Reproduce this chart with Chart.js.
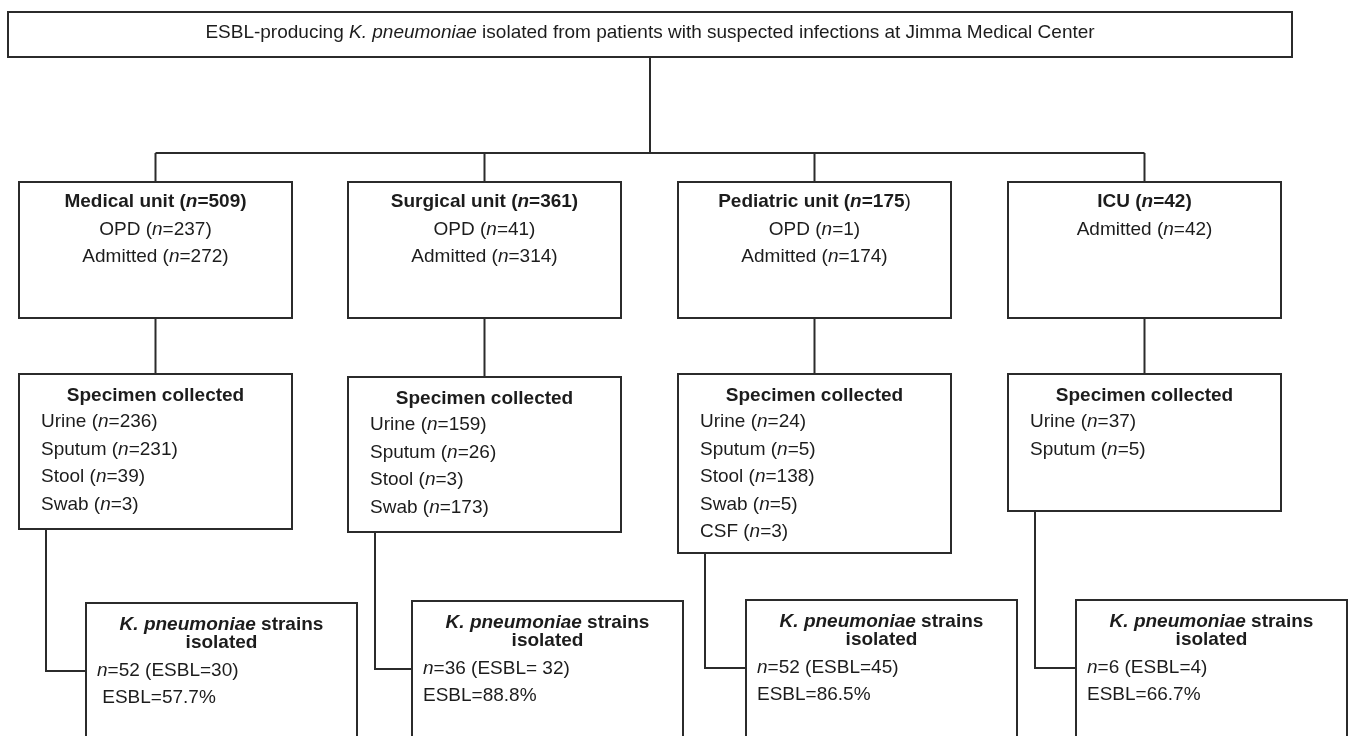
<!DOCTYPE html>
<html>
<head>
<meta charset="utf-8">
<title>ESBL-producing K. pneumoniae flow</title>
<script src="https://cdn.jsdelivr.net/npm/chart.js@4.4.1/dist/chart.umd.min.js"></script>
<style>
  html, body { margin: 0; padding: 0; background: #fff; }
  #wrap { width: 1348px; height: 736px; position: relative; }
</style>
</head>
<body>
<div id="wrap"><canvas id="chart"></canvas></div>
<script>
// Data
const units = ["Medical unit", "Surgical unit", "Pediatric unit", "ICU"];
const unitTotals = [509, 361, 175, 42];
const opdCounts = [237, 41, 1, null];
const admittedCounts = [272, 314, 174, 42];
const specimenTypes = ["Urine", "Sputum", "Stool", "Swab", "CSF"];
const specimenCounts = [
  [236, 231, 39, 3, null],
  [159, 26, 3, 173, null],
  [24, 5, 138, 5, 3],
  [37, 5, null, null, null],
];
const isolates = [52, 36, 52, 6];
const esblPositive = [30, 32, 45, 4];
const esblPercent = ["57.7", "88.8", "86.5", "66.7"];

// Layout (pixel units on the hidden linear scales)
const W = 1348, H = 736;
const topBox = { x0: 8, x1: 1292, y0: 12, y1: 57, textY: 33 };
const branchY = 153;
const unitX0 = [19, 348, 678, 1008];
const unitW = 273;
const unitY0 = 182, unitY1 = 318;
const specY0 = [374, 377, 374, 374];
const specY1 = [529, 532, 553, 511];
const isoX0 = [86, 412, 746, 1076];
const isoW = 271;
const isoY0 = [603, 601, 600, 600];

const FONT = '"Liberation Sans", Arial, Helvetica, sans-serif';
const SIZE = 19;
const LINE = "#2b2b2b";
const INK = "#1c1c1c";

function fontFor(r) {
  return (r.i ? "italic " : "") + (r.b ? "bold " : "") + SIZE + "px " + FONT;
}

// runs: [{t, b, i}]
function drawRuns(ctx, runs, x, y, align) {
  let total = 0;
  runs.forEach((r) => {
    ctx.font = fontFor(r);
    r.w = ctx.measureText(r.t).width;
    total += r.w;
  });
  let cx = align === "center" ? x - total / 2 : x;
  ctx.fillStyle = INK;
  ctx.textBaseline = "middle";
  ctx.textAlign = "left";
  runs.forEach((r) => {
    ctx.font = fontFor(r);
    ctx.fillText(r.t, cx, y);
    cx += r.w;
  });
}

// "(n=123)" with italic n
function nEq(val, bold, closeBold) {
  return [
    { t: "(", b: bold },
    { t: "n", b: bold, i: true },
    { t: "=" + val, b: bold },
    { t: ")", b: closeBold === undefined ? bold : closeBold },
  ];
}

const flowPlugin = {
  id: "flow",
  afterDraw(chart) {
    const ctx = chart.ctx;
    const sx = chart.scales.x, sy = chart.scales.y;
    const X = (v) => sx.getPixelForValue(v);
    const Y = (v) => sy.getPixelForValue(v);

    ctx.save();
    ctx.strokeStyle = LINE;
    ctx.lineWidth = 2;

    function seg(pts) {
      ctx.beginPath();
      ctx.moveTo(X(pts[0][0]), Y(pts[0][1]));
      for (let k = 1; k < pts.length; k++) ctx.lineTo(X(pts[k][0]), Y(pts[k][1]));
      ctx.stroke();
    }
    function box(x0, y0, x1, y1) {
      ctx.fillStyle = "#fff";
      ctx.fillRect(X(x0), Y(y0), X(x1) - X(x0), Y(y1) - Y(y0));
      ctx.strokeRect(X(x0), Y(y0), X(x1) - X(x0), Y(y1) - Y(y0));
    }

    const centers = unitX0.map((x0) => x0 + unitW / 2);
    const topMid = (topBox.x0 + topBox.x1) / 2;

    // connectors
    seg([[topMid, topBox.y1], [topMid, branchY]]);
    seg([[centers[0], branchY], [centers[centers.length - 1], branchY]]);
    units.forEach((u, i) => {
      seg([[centers[i], branchY], [centers[i], unitY0]]);
      seg([[centers[i], unitY1], [centers[i], specY0[i]]]);
      const cx = unitX0[i] + 27;
      const elbow = isoY0[i] + 68;
      seg([[cx, specY1[i]], [cx, elbow], [isoX0[i], elbow]]);
    });

    // top box
    box(topBox.x0, topBox.y0, topBox.x1, topBox.y1);
    drawRuns(ctx, [
      { t: "ESBL-producing " },
      { t: "K. pneumoniae", i: true },
      { t: " isolated from patients with suspected infections at Jimma Medical Center" },
    ], X(topMid), Y(topBox.textY), "center");

    units.forEach((u, i) => {
      const x0 = unitX0[i], x1 = x0 + unitW, mid = centers[i];

      // unit box
      box(x0, unitY0, x1, unitY1);
      const closeBold = i !== 2;
      drawRuns(ctx, [{ t: u + " ", b: true }].concat(nEq(unitTotals[i], true, closeBold)),
        X(mid), Y(unitY0 + 20), "center");
      const sub = [];
      if (opdCounts[i] !== null) sub.push([{ t: "OPD " }].concat(nEq(opdCounts[i])));
      sub.push([{ t: "Admitted " }].concat(nEq(admittedCounts[i])));
      sub.forEach((runs, k) => drawRuns(ctx, runs, X(mid), Y(unitY0 + 48 + 27 * k), "center"));

      // specimen box
      box(x0, specY0[i], x1, specY1[i]);
      drawRuns(ctx, [{ t: "Specimen collected", b: true }], X(mid), Y(specY0[i] + 22), "center");
      let row = 0;
      specimenTypes.forEach((s, k) => {
        const c = specimenCounts[i][k];
        if (c === null) return;
        drawRuns(ctx, [{ t: s + " " }].concat(nEq(c)), X(x0 + 22), Y(specY0[i] + 48 + 27.5 * row), "left");
        row++;
      });

      // isolates box (runs past the bottom edge)
      const ix0 = isoX0[i], ix1 = ix0 + isoW, imid = ix0 + isoW / 2, iy = isoY0[i];
      box(ix0, iy, ix1, H + 20);
      drawRuns(ctx, [
        { t: "K. pneumoniae", b: true, i: true },
        { t: " strains", b: true },
      ], X(imid), Y(iy + 22), "center");
      drawRuns(ctx, [{ t: "isolated", b: true }], X(imid), Y(iy + 40), "center");
      const gap = i === 1 ? " " : "";
      drawRuns(ctx, [
        { t: "n", i: true },
        { t: "=" + isolates[i] + " (ESBL=" + gap + esblPositive[i] + ")" },
      ], X(ix0 + 11), Y(iy + 68), "left");
      const lead = i === 0 ? " " : "";
      drawRuns(ctx, [{ t: lead + "ESBL=" + esblPercent[i] + "%" }], X(ix0 + 11), Y(iy + 95), "left");
    });

    ctx.restore();
  },
};

const ctx = document.getElementById("chart").getContext("2d");
const chart = new Chart(ctx, {
  type: "scatter",
  data: { datasets: [{ data: [], pointRadius: 0 }] },
  options: {
    animation: false,
    responsive: true,
    maintainAspectRatio: false,
    layout: { padding: 0 },
    plugins: { legend: { display: false }, tooltip: { enabled: false } },
    scales: {
      x: { type: "linear", min: 0, max: W, display: false },
      y: { type: "linear", min: 0, max: H, reverse: true, display: false },
    },
  },
  plugins: [flowPlugin],
});
</script>
</body>
</html>
